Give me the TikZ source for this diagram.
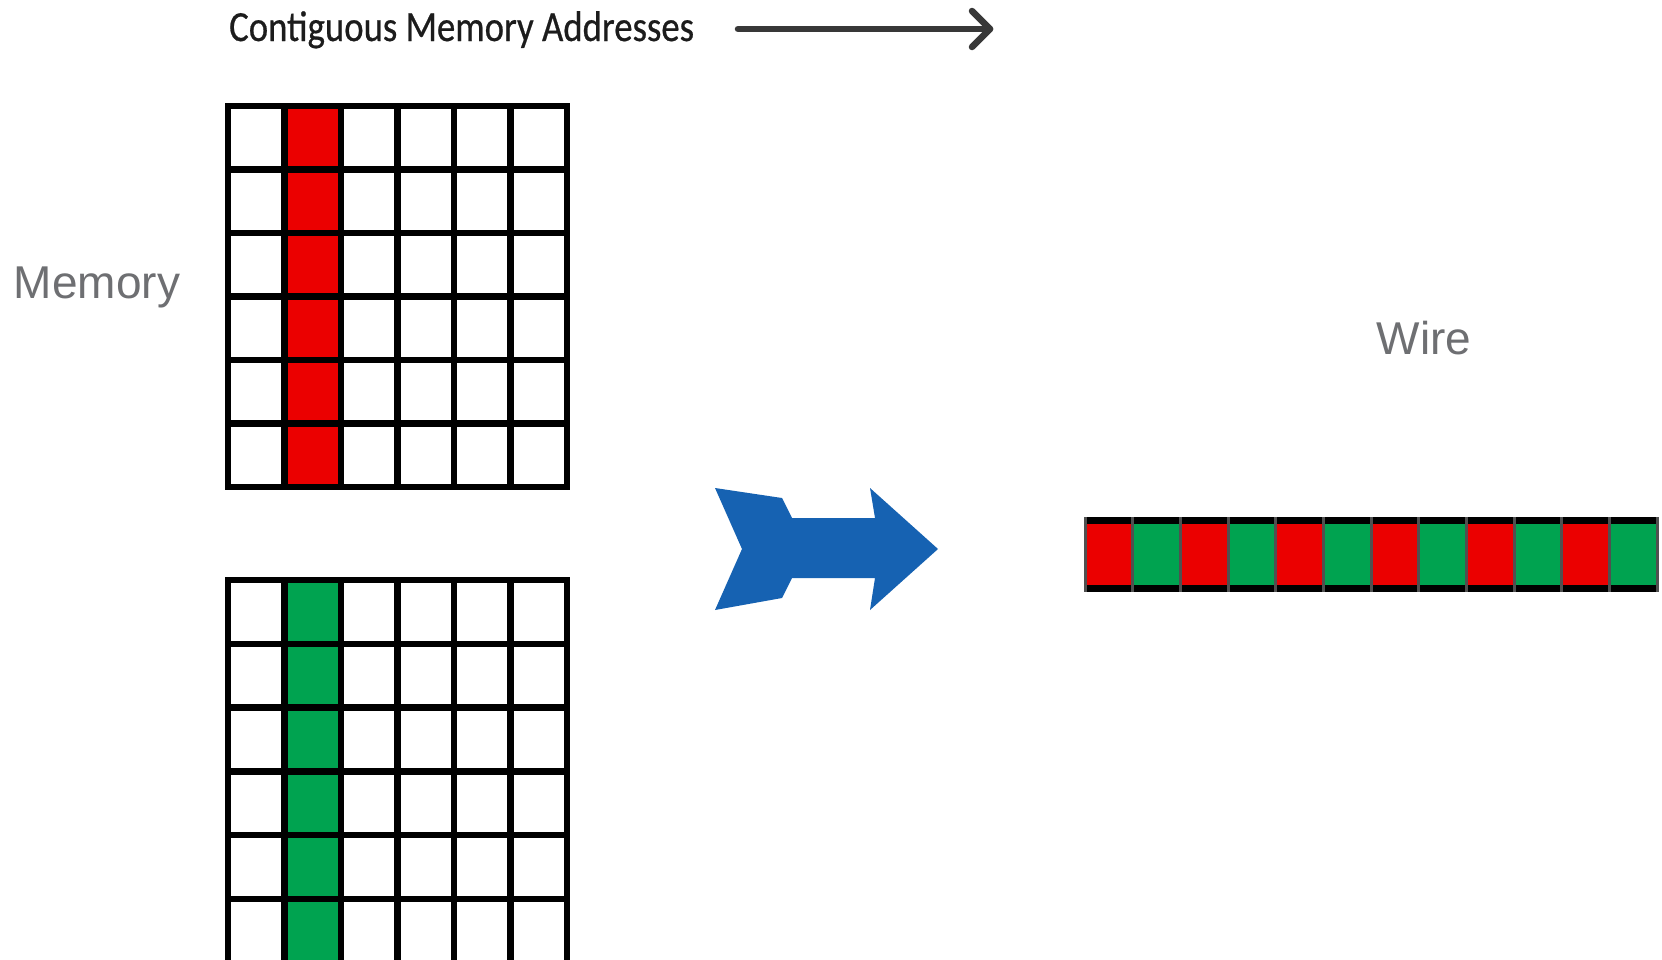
\documentclass[tikz,border=0pt]{standalone}
\usepackage{fontspec}
\usetikzlibrary{calc}
\newfontfamily\calibfont[FakeBold=0.6]{Carlito}
\newfontfamily\arialfont{Liberation Sans}
\definecolor{cellred}{RGB}{235,0,0}
\definecolor{cellgreen}{RGB}{0,163,80}
\definecolor{flowblue}{RGB}{22,98,178}
\definecolor{labelgray}{RGB}{110,111,114}
\definecolor{textdark}{RGB}{28,28,28}
\definecolor{arrowgray}{RGB}{56,56,56}
\definecolor{sepgray}{RGB}{80,80,80}
\tikzset{
  gridline/.style={line width=6.5pt, line cap=rect, black},
  sidelabel/.style={text=labelgray, font=\arialfont\fontsize{46}{46}\selectfont, inner sep=0pt},
  addrline/.style={line width=6.5pt, arrowgray, line cap=round, line join=round},
  wiresep/.style={line width=3pt, sepgray},
}
\begin{document}
\begin{tikzpicture}[x=1pt,y=-1pt]
\useasboundingbox (0,0) rectangle (1662,959);
\fill[white] (0,0) rectangle (1662,959);

% heading and address direction arrow
\node[anchor=base west, text=textdark, inner sep=0pt,
      font=\calibfont\fontsize{43}{43}\selectfont] (addr) at (229,41)
      {\scalebox{0.855}[1]{Contiguous Memory Addresses}};
\coordinate (dirA) at (738,29);
\coordinate (dirB) at (990,29);
\draw[addrline] (dirA) -- (dirB);
\draw[addrline] ($(dirB)+(-18,-18)$) -- (dirB) -- ($(dirB)+(-18,18)$);

% side labels
\node[sidelabel] (mem) at (97,287) {Memory};
\node[sidelabel] (wire) at (1424,338) {Wire};

% upper memory block (red column)
\fill[cellred] (284.5,106) rectangle (341,487);
\foreach \i in {0,...,6} \draw[gridline] (228+56.5*\i,106) -- (228+56.5*\i,487);
\foreach \j in {0,...,6} \draw[gridline] (228,106+63.5*\j) -- (567,106+63.5*\j);

% lower memory block (green column)
\fill[cellgreen] (284.5,580) rectangle (341,963);
\foreach \i in {0,...,6} \draw[gridline] (228+56.5*\i,580) -- (228+56.5*\i,963);
\foreach \j in {0,...,6} \draw[gridline] (228,580+63.8*\j) -- (567,580+63.8*\j);

% transfer arrow
\fill[flowblue] (715,488) -- (782,498) -- (792,518) -- (875,518) -- (870,488)
  -- (938,549) -- (870,610) -- (875,578) -- (792,578) -- (782,598)
  -- (715,610) -- (742,549) -- cycle;

% interleaved wire
\foreach \k in {0,...,11} {
  \pgfmathsetmacro{\xa}{1085+47.67*\k}
  \pgfmathsetmacro{\xb}{1085+47.67*(\k+1)}
  \ifodd\k
    \fill[cellgreen] (\xa,517) rectangle (\xb,592);
  \else
    \fill[cellred] (\xa,517) rectangle (\xb,592);
  \fi
}
\fill[black] (1085,517) rectangle (1657,524);
\fill[black] (1085,585) rectangle (1657,592);
\foreach \k in {0,...,12} \draw[wiresep] (1085+47.67*\k,517) -- (1085+47.67*\k,592);
\end{tikzpicture}
\end{document}
